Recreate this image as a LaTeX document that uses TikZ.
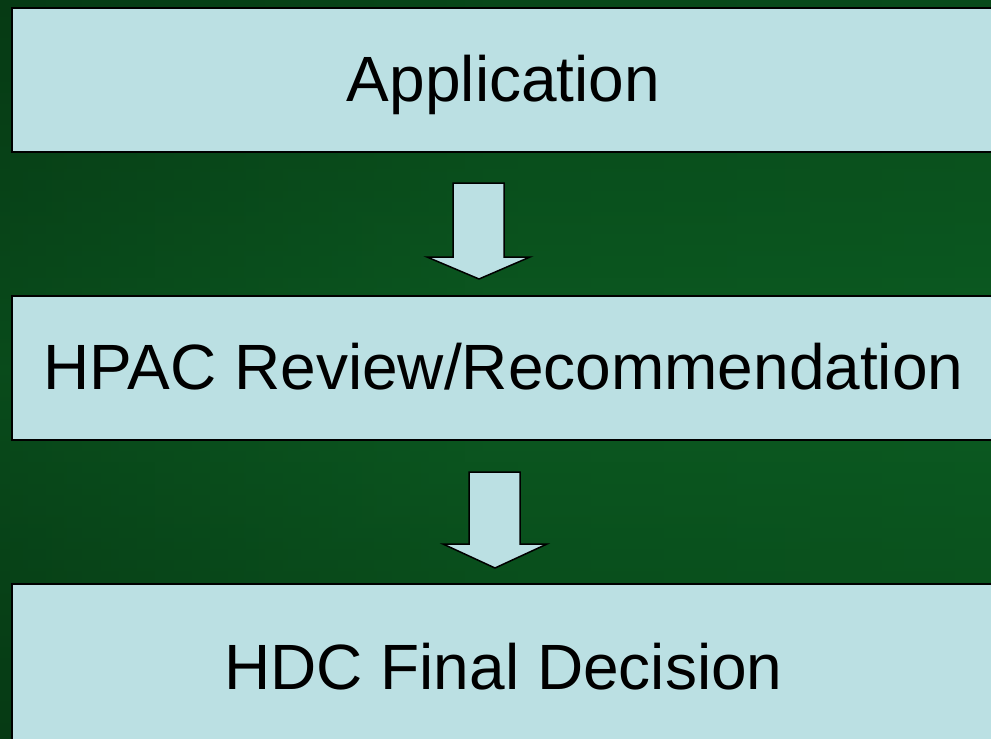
\documentclass[tikz,border=0pt]{standalone}
\usepackage{fontspec}
\setmainfont{Liberation Sans}
\definecolor{leafdark}{RGB}{6,58,20}
\definecolor{leafmid}{RGB}{12,92,34}
\definecolor{boxfill}{RGB}{187,224,227}
\tikzset{
  stepbox/.style={draw=black,line width=2pt,fill=boxfill,rectangle,
    minimum width=983pt,minimum height=144pt,inner sep=0pt,
    text height=48pt,text depth=5pt,
    font=\fontsize{64}{76}\selectfont},
  blockarrow/.style={draw=black,line width=1.5pt,fill=boxfill,line join=miter}
}
\begin{document}
\begin{tikzpicture}[x=1pt,y=1pt]
      \useasboundingbox (0,0) rectangle (991,-739);
      \clip (0,0) rectangle (991,-739);
      \shade[left color=leafdark,right color=leafmid,middle color=leafmid!80!leafdark] (0,0) rectangle (991,-739);
      \shade[top color=leafdark,bottom color=leafdark,middle color=leafmid,opacity=0.5] (0,0) rectangle (991,-739);
      % the three steps
      \node[stepbox] (app) at (503.5,-80) {Application};
      \node[stepbox] (hpac) at (503.5,-368) {HPAC Review/Recommendation};
      \node[stepbox,minimum height=200pt,text depth=38pt] (hdc) at (503.5,-684) {HDC Final Decision};
      % block arrows between them
      \draw[blockarrow] (453,-183) -- (504,-183) -- (504,-257) -- (530,-257)
        -- (479,-279) -- (427,-257) -- (453,-257) -- cycle;
      \draw[blockarrow] (469,-472) -- (520,-472) -- (520,-544) -- (547,-544)
        -- (495,-568) -- (443,-544) -- (469,-544) -- cycle;
    \end{tikzpicture}
\end{document}
